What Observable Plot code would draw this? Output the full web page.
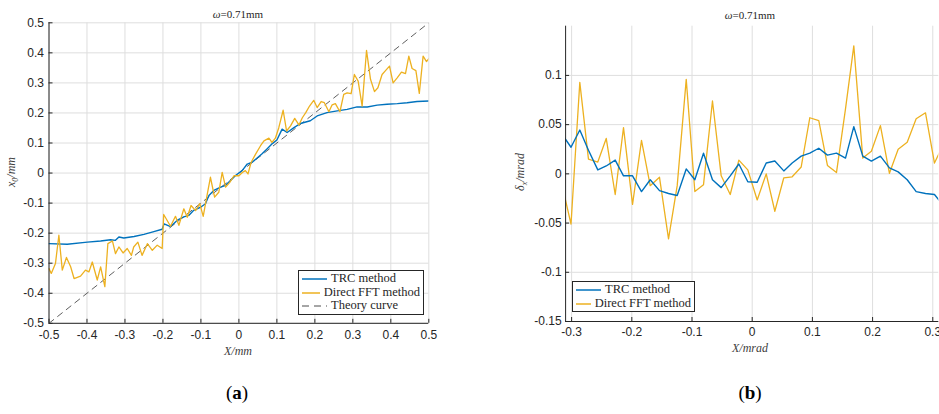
<!DOCTYPE html>
<html><head><meta charset="utf-8">
<script src="https://cdn.jsdelivr.net/npm/d3@7"></script>
<script src="https://cdn.jsdelivr.net/npm/@observablehq/plot@0.6"></script>
<style>
body{margin:0;background:#fff;}
#wrap{position:relative;width:939px;height:414px;overflow:hidden;font-family:"Liberation Serif","Times New Roman",serif;color:#262626;}
.abs{position:absolute;white-space:nowrap;}
.c{transform:translate(-50%,-50%);}
.title{font-size:11px;}
.xlab{font-size:12px;font-style:italic;color:#404040;}
.ylab{font-size:12px;font-style:italic;color:#404040;transform:translate(-50%,-50%) rotate(-90deg);}
.cap{font-size:19px;color:#000;}
.legend{border:1px solid #262626;background:#fff;font-size:12.5px;line-height:13.7px;padding:1px 3px 1px 3px;box-sizing:border-box;}
.legend div{display:flex;align-items:center;height:13.7px;}
.legend svg{margin-right:4px;}
</style></head><body><div id="wrap"></div>
<script>
// ---------- Panel (a) data ----------
const aTitle = "0.71mm";
const aXTicks = [-0.5,-0.4,-0.3,-0.2,-0.1,0,0.1,0.2,0.3,0.4,0.5];
const aXTickLabels = ["-0.5","-0.4","-0.3","-0.2","-0.1","0","0.1","0.2","0.3","0.4","0.5"];
const aYTicks = [-0.5,-0.4,-0.3,-0.2,-0.1,0,0.1,0.2,0.3,0.4,0.5];
const aYTickLabels = ["-0.5","-0.4","-0.3","-0.2","-0.1","0","0.1","0.2","0.3","0.4","0.5"];

const aTrcX = [-0.500,-0.452,-0.399,-0.364,-0.338,-0.325,-0.316,-0.303,-0.276,-0.250,-0.224,-0.202,-0.197,-0.180,-0.162,-0.145,-0.132,-0.119,-0.100,-0.088,-0.079,-0.066,-0.048,-0.035,-0.022,-0.009,0.0085,0.022,0.035,0.048,0.061,0.074,0.088,0.100,0.1138,0.127,0.145,0.162,0.188,0.206,0.232,0.259,0.285,0.311,0.338,0.364,0.390,0.417,0.443,0.469,0.500];
const aTrcY = [-0.235,-0.237,-0.230,-0.226,-0.222,-0.224,-0.213,-0.216,-0.211,-0.204,-0.195,-0.187,-0.169,-0.178,-0.157,-0.146,-0.141,-0.124,-0.113,-0.102,-0.075,-0.058,-0.047,-0.041,-0.025,-0.008,0.008,0.030,0.036,0.050,0.064,0.080,0.098,0.110,0.146,0.135,0.151,0.165,0.174,0.190,0.201,0.207,0.212,0.220,0.220,0.226,0.229,0.231,0.234,0.238,0.240];

const aFftX = [-0.500,-0.494,-0.483,-0.474,-0.465,-0.454,-0.443,-0.434,-0.417,-0.404,-0.395,-0.386,-0.373,-0.364,-0.353,-0.345,-0.333,-0.325,-0.316,-0.305,-0.294,-0.283,-0.277,-0.266,-0.255,-0.241,-0.228,-0.215,-0.202,-0.198,-0.180,-0.167,-0.158,-0.145,-0.136,-0.126,-0.114,-0.103,-0.094,-0.084,-0.075,-0.064,-0.053,-0.044,-0.035,-0.024,-0.013,0.000,0.009,0.017,0.024,0.032,0.044,0.057,0.066,0.079,0.087,0.096,0.105,0.1165,0.1255,0.136,0.147,0.158,0.167,0.176,0.186,0.197,0.206,0.2165,0.225,0.237,0.2455,0.254,0.266,0.276,0.285,0.2955,0.304,0.314,0.3245,0.336,0.3465,0.357,0.366,0.377,0.386,0.3965,0.406,0.4167,0.428,0.4386,0.4474,0.456,0.466,0.475,0.485,0.494,0.500];
const aFftY = [-0.318,-0.334,-0.301,-0.207,-0.323,-0.281,-0.312,-0.351,-0.343,-0.323,-0.329,-0.296,-0.356,-0.312,-0.378,-0.235,-0.226,-0.268,-0.246,-0.266,-0.251,-0.274,-0.246,-0.230,-0.274,-0.235,-0.257,-0.240,-0.251,-0.138,-0.177,-0.144,-0.174,-0.119,-0.147,-0.108,-0.125,-0.102,-0.144,-0.075,-0.014,-0.080,-0.064,0.002,-0.047,-0.031,-0.009,-0.009,0.002,0.008,-0.003,0.035,0.063,0.091,0.107,0.116,0.102,0.116,0.151,0.209,0.140,0.157,0.182,0.160,0.184,0.201,0.223,0.242,0.218,0.238,0.234,0.204,0.227,0.231,0.204,0.262,0.267,0.264,0.328,0.306,0.223,0.408,0.312,0.271,0.284,0.328,0.341,0.356,0.300,0.317,0.336,0.331,0.389,0.348,0.341,0.265,0.389,0.371,0.381];

const aTheoryX = [-0.5, 0.5];
const aTheoryY = [-0.5, 0.5];

// ---------- Panel (b) data ----------
const bXTicks = [-0.3,-0.2,-0.1,0,0.1,0.2,0.3];
const bXTickLabels = ["-0.3","-0.2","-0.1","0","0.1","0.2","0.3"];
const bYTicks = [-0.15,-0.1,-0.05,0,0.05,0.1];
const bYTickLabels = ["-0.15","-0.1","-0.05","0","0.05","0.1"];

const bX = [-0.3157,-0.3010,-0.2864,-0.2720,-0.2565,-0.2425,-0.2276,-0.2138,-0.1988,-0.1839,-0.1694,-0.1540,-0.1390,-0.1246,-0.1096,-0.0953,-0.0809,-0.0660,-0.0515,-0.0365,-0.0222,-0.0073,0.0083,0.0233,0.0376,0.0525,0.0664,0.0814,0.0957,0.1106,0.1250,0.1400,0.1550,0.1688,0.1837,0.1980,0.2130,0.2280,0.2425,0.2575,0.2724,0.2879,0.3028,0.3175];
const bTrcY = [0.040,0.027,0.0445,0.024,0.004,0.008,0.014,-0.002,-0.002,-0.018,-0.006,-0.017,-0.020,-0.022,0.005,-0.006,0.021,-0.006,-0.014,-0.002,0.010,-0.008,-0.0085,0.011,0.013,0.003,0.011,0.018,0.021,0.026,0.019,0.021,0.016,0.048,0.018,0.013,0.018,0.006,0.002,-0.006,-0.018,-0.020,-0.021,-0.032];
const bFftY = [-0.012,-0.051,0.093,0.015,0.012,0.036,-0.021,0.047,-0.031,0.034,-0.012,-0.0035,-0.066,-0.012,0.096,-0.018,-0.011,0.074,-0.002,-0.021,0.014,0.004,-0.0265,0.000,-0.038,-0.004,-0.003,0.007,0.057,0.054,0.0085,0.0013,0.066,0.130,0.016,0.023,0.049,0.0006,0.025,0.032,0.056,0.062,0.011,0.030];

const seriesNames = ["TRC method","Direct FFT method","Theory curve"];
const BLUE = "#0072BD", YELLOW = "#EDB120", THEORY = "#4d4d4d";

function pts(xs, ys){ return xs.map((x,i)=>({x, y: ys[i]})); }

function panel(o){
  const pw = o.width - o.ml - o.mr, ph = o.height - o.mt - o.mb;
  const [x0,x1] = o.xDomain, [y0,y1] = o.yDomain;
  const tx = 4*(x1-x0)/pw, ty = 4*(y1-y0)/ph;
  const xl = new Map(o.xTicks.map((t,i)=>[t,o.xLabels[i]]));
  const yl = new Map(o.yTicks.map((t,i)=>[t,o.yLabels[i]]));
  const grid = "#dedede", ax = "#262626";
  return Plot.plot({
    width: o.width, height: o.height,
    marginLeft: o.ml, marginRight: o.mr, marginTop: o.mt, marginBottom: o.mb,
    x: {domain: o.xDomain, label: null}, y: {domain: o.yDomain, label: null},
    style: {fontFamily: "'Liberation Sans', Arial, sans-serif", fontSize: "12px", color: "#262626", background: "transparent", overflow: "visible"},
    marks: [
      Plot.gridX(o.xTicks, {stroke: grid, strokeOpacity: 1, strokeWidth: 1}),
      Plot.gridY(o.yTicks, {stroke: grid, strokeOpacity: 1, strokeWidth: 1}),
      ...o.lines.map(l => Plot.line(l.data, {x: "x", y: "y", stroke: l.color, strokeWidth: l.w || 1.3, strokeDasharray: l.dash, clip: true})),
      Plot.ruleX([x0], {stroke: ax, strokeWidth: 1}),
      Plot.ruleY([y0], {stroke: ax, strokeWidth: 1}),
      Plot.ruleY(o.yTicks, {y: d=>d, x1: x0, x2: x0 + tx, stroke: ax}),
      Plot.ruleX(o.xTicks, {x: d=>d, y1: y0, y2: y0 + ty, stroke: ax}),
      Plot.axisX(o.xTicks, {label: null, tickSize: 0, tickPadding: o.xPad, tickFormat: d => xl.get(d), fill: "#262626"}),
      Plot.axisY(o.yTicks, {label: null, tickSize: 0, tickPadding: o.yPad, tickFormat: d => yl.get(d), fill: "#262626"})
    ]
  });
}

const wrap = document.getElementById("wrap");
function place(el, left, top){ el.style.position="absolute"; el.style.left=left+"px"; el.style.top=top+"px"; wrap.appendChild(el); }

const pA = panel({
  width: 470, height: 360, ml: 48.5, mr: 41.7, mt: 22.3, mb: 37.2,
  xDomain: [-0.5, 0.5], yDomain: [-0.5, 0.5],
  xTicks: aXTicks, xLabels: aXTickLabels, yTicks: aYTicks, yLabels: aYTickLabels,
  xPad: 7, yPad: 5,
  lines: [
    {data: pts(aTheoryX, aTheoryY), color: THEORY, w: 0.9, dash: "6,5"},
    {data: pts(aTrcX, aTrcY), color: BLUE, w: 1.4},
    {data: pts(aFftX, aFftY), color: YELLOW, w: 1.3}
  ]
});
place(pA, 0, 0);

const pB = panel({
  width: 459, height: 360, ml: 85.1, mr: 0.7, mt: 25.7, mb: 39,
  xDomain: [-0.31, 0.31], yDomain: [-0.15, 0.15],
  xTicks: bXTicks, xLabels: bXTickLabels, yTicks: bYTicks, yLabels: bYTickLabels,
  xPad: 6, yPad: 4,
  lines: [
    {data: pts(bX, bFftY), color: YELLOW, w: 1.3},
    {data: pts(bX, bTrcY), color: BLUE, w: 1.4}
  ]
});
place(pB, 480, 0);

function addText(html, cls, x, y){
  const d = document.createElement("div");
  d.className = "abs " + cls; d.innerHTML = html;
  d.style.left = x+"px"; d.style.top = y+"px";
  wrap.appendChild(d); return d;
}
addText("<i>ω</i>=" + aTitle, "title c", 238, 14);
addText("<i>ω</i>=" + aTitle, "title c", 750, 15);
addText("X/mm", "xlab c", 238, 351);
addText("X/mrad", "xlab c", 750, 348);
addText("x<sub style='font-size:8px'>0</sub>/mm", "ylab", 12, 172);
addText("δ<sub style='font-size:8px'>x</sub>/mrad", "ylab", 521, 172);
addText("(<b>a</b>)", "cap c", 237, 393);
addText("(<b>b</b>)", "cap c", 750, 393);

function legend(items, left, top, width){
  const d = document.createElement("div");
  d.className = "abs legend";
  d.style.left = left+"px"; d.style.top = top+"px"; d.style.width = width+"px";
  items.forEach(it => {
    const r = document.createElement("div");
    r.innerHTML = `<svg width="25" height="4"><line x1="0" y1="2" x2="25" y2="2" stroke="${it.color}" stroke-width="${it.w}" ${it.dash?`stroke-dasharray="${it.dash}"`:""}/></svg><span>${it.name}</span>`;
    d.appendChild(r);
  });
  wrap.appendChild(d);
}
legend([
  {name: seriesNames[0], color: BLUE, w: 1.5},
  {name: seriesNames[1], color: YELLOW, w: 1.5},
  {name: seriesNames[2], color: THEORY, w: 1, dash: "7,5"}
], 298, 270, 126);
legend([
  {name: seriesNames[0], color: BLUE, w: 1.5},
  {name: seriesNames[1], color: YELLOW, w: 1.5}
], 572, 281, 123);
</script>
</body></html>
